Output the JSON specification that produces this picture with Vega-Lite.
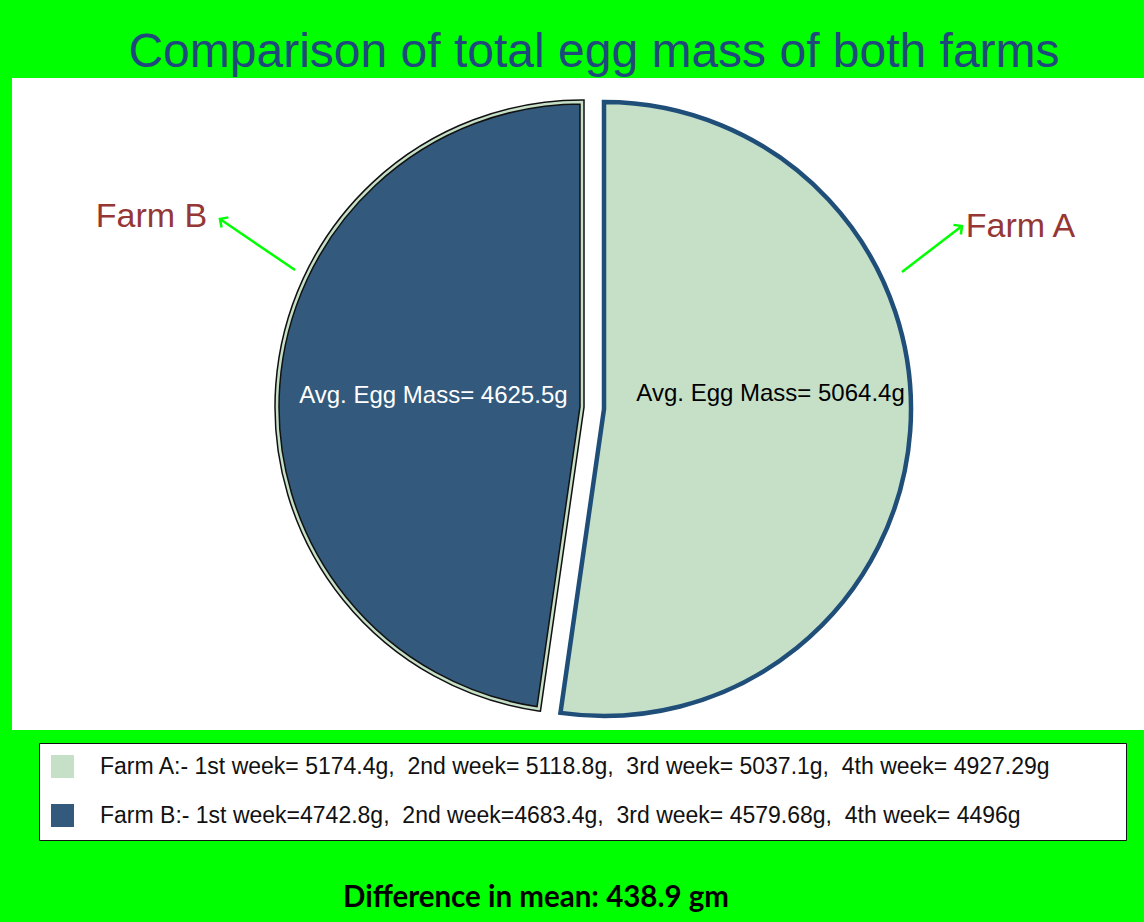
{
  "$schema": "https://vega.github.io/schema/vega-lite/v6.json",
  "width": 1132,
  "height": 652,
  "autosize": {"type": "none"},
  "padding": {"left": 12, "top": 78, "right": 0, "bottom": 192},
  "background": "#00FF00",
  "config": {"view": {"fill": "white", "stroke": null}},
  "title": {
    "text": "Comparison of total egg mass of both farms",
    "font": "Liberation Sans",
    "fontSize": 48,
    "fontWeight": "normal",
    "color": "#1F497D",
    "anchor": "middle",
    "offset": 1,
    "dx": 16
  },
  "datasets": {
    "farms": [
      {"farm": "Farm A", "mass": 5064.4, "legend": "Farm A:- 1st week= 5174.4g,\u00a0 2nd week= 5118.8g,\u00a0 3rd week= 5037.1g,\u00a0 4th week= 4927.29g", "label": "Avg. Egg Mass= 5064.4g"},
      {"farm": "Farm B", "mass": 4625.5, "legend": "Farm B:- 1st week=4742.8g,\u00a0 2nd week=4683.4g,\u00a0 3rd week= 4579.68g,\u00a0 4th week= 4496g", "label": "Avg. Egg Mass= 4625.5g"}
    ],
    "names": [
      {"name": "Farm B", "x": 12.32, "y": 22.85},
      {"name": "Farm A", "x": 89.09, "y": 24.39}
    ],
    "arrows": [
      {"arrow": "B", "end": "tail", "x": 25.0, "y": 29.45},
      {"arrow": "B", "end": "head", "x": 18.37, "y": 21.63},
      {"arrow": "A", "end": "tail", "x": 78.62, "y": 29.75},
      {"arrow": "A", "end": "head", "x": 83.92, "y": 22.7}
    ],
    "footer": [
      {"text": "Difference in mean: 438.9 gm", "x": 46.29, "y": 127.15}
    ]
  },
  "layer": [
    {
      "data": {"name": "farms"},
      "mark": {"type": "arc", "outerRadius": 305, "xOffset": 4, "yOffset": 3, "stroke": "#111111", "strokeWidth": 5.5},
      "encoding": {
        "theta": {"field": "mass", "type": "quantitative", "stack": true},
        "order": {"field": "farm", "type": "ordinal"},
        "color": {
          "field": "legend",
          "type": "nominal",
          "scale": {"range": ["#C6E0C8", "#335A7D"]},
          "legend": {
            "title": "\u00a0",
            "titleOrient": "right",
            "titlePadding": 63,
            "titleFontSize": 10,
            "orient": "none",
            "legendX": 27,
            "legendY": 665,
            "direction": "vertical",
            "fillColor": "white",
            "strokeColor": "#111111",
            "padding": 12,
            "symbolType": "square",
            "symbolSize": 529,
            "symbolStrokeWidth": 0,
            "labelFont": "Liberation Sans",
            "labelFontSize": 23,
            "labelColor": "#111111",
            "labelLimit": 2000,
            "labelOffset": 26,
            "rowPadding": 25
          }
        },
        "opacity": {"condition": {"test": "datum.farm === 'Farm B'", "value": 1}, "value": 0}
      }
    },
    {
      "data": {"name": "farms"},
      "mark": {"type": "arc", "outerRadius": 305, "xOffset": 4, "yOffset": 3, "fill": "transparent", "stroke": "#C6E0C8", "strokeWidth": 2.5},
      "encoding": {
        "theta": {"field": "mass", "type": "quantitative", "stack": true},
        "order": {"field": "farm", "type": "ordinal"},
        "opacity": {"condition": {"test": "datum.farm === 'Farm B'", "value": 1}, "value": 0}
      }
    },
    {
      "data": {"name": "farms"},
      "mark": {"type": "arc", "outerRadius": 307, "xOffset": 26, "yOffset": 5, "stroke": "#1F4E79", "strokeWidth": 4.5},
      "encoding": {
        "theta": {"field": "mass", "type": "quantitative", "stack": true},
        "order": {"field": "farm", "type": "ordinal"},
        "color": {"field": "legend", "type": "nominal"},
        "opacity": {"condition": {"test": "datum.farm === 'Farm A'", "value": 1}, "value": 0}
      }
    },
    {
      "data": {"name": "farms"},
      "mark": {"type": "text", "radius": 149, "dx": 4, "dy": 3, "font": "Liberation Sans", "fontSize": 24, "fill": "white", "baseline": "middle", "align": "center"},
      "encoding": {
        "theta": {"field": "mass", "type": "quantitative", "stack": true},
        "order": {"field": "farm", "type": "ordinal"},
        "text": {"condition": {"test": "datum.farm === 'Farm B'", "field": "label"}, "value": ""}
      }
    },
    {
      "data": {"name": "farms"},
      "mark": {"type": "text", "radius": 167, "dx": 26, "dy": -22, "font": "Liberation Sans", "fontSize": 24, "fill": "black", "baseline": "middle", "align": "center"},
      "encoding": {
        "theta": {"field": "mass", "type": "quantitative", "stack": true},
        "order": {"field": "farm", "type": "ordinal"},
        "text": {"condition": {"test": "datum.farm === 'Farm A'", "field": "label"}, "value": ""}
      }
    },
    {
      "data": {"name": "names"},
      "mark": {"type": "text", "font": "Liberation Sans", "fontSize": 34, "fill": "#953735", "baseline": "alphabetic", "align": "center"},
      "encoding": {
        "x": {"field": "x", "type": "quantitative", "scale": {"domain": [0, 100], "nice": false, "zero": false}, "axis": null},
        "y": {"field": "y", "type": "quantitative", "scale": {"domain": [0, 100], "nice": false, "zero": false, "reverse": true}, "axis": null},
        "text": {"field": "name"}
      }
    },
    {
      "data": {"name": "arrows"},
      "mark": {"type": "line", "stroke": "#00FF00", "strokeWidth": 2.5},
      "encoding": {
        "x": {"field": "x", "type": "quantitative", "scale": {"domain": [0, 100], "nice": false, "zero": false}, "axis": null},
        "y": {"field": "y", "type": "quantitative", "scale": {"domain": [0, 100], "nice": false, "zero": false, "reverse": true}, "axis": null},
        "detail": {"field": "arrow"}
      }
    },
    {
      "data": {"name": "arrows"},
      "transform": [{"filter": "datum.end === 'head' && datum.arrow === 'B'"}],
      "mark": {"type": "point", "shape": "M-0.7,0.7L0,0L0.7,0.7", "filled": false, "stroke": "#00FF00", "strokeWidth": 2.5, "size": 300, "angle": 304, "opacity": 1},
      "encoding": {
        "x": {"field": "x", "type": "quantitative", "scale": {"domain": [0, 100], "nice": false, "zero": false}, "axis": null},
        "y": {"field": "y", "type": "quantitative", "scale": {"domain": [0, 100], "nice": false, "zero": false, "reverse": true}, "axis": null}
      }
    },
    {
      "data": {"name": "arrows"},
      "transform": [{"filter": "datum.end === 'head' && datum.arrow === 'A'"}],
      "mark": {"type": "point", "shape": "M-0.7,0.7L0,0L0.7,0.7", "filled": false, "stroke": "#00FF00", "strokeWidth": 2.5, "size": 300, "angle": 52.5, "opacity": 1},
      "encoding": {
        "x": {"field": "x", "type": "quantitative", "scale": {"domain": [0, 100], "nice": false, "zero": false}, "axis": null},
        "y": {"field": "y", "type": "quantitative", "scale": {"domain": [0, 100], "nice": false, "zero": false, "reverse": true}, "axis": null}
      }
    },
    {
      "data": {"name": "footer"},
      "mark": {"type": "text", "font": "Lato", "fontWeight": "bold", "fontSize": 29.5, "fill": "black", "baseline": "alphabetic", "align": "center"},
      "encoding": {
        "x": {"field": "x", "type": "quantitative", "scale": {"domain": [0, 100], "nice": false, "zero": false}, "axis": null},
        "y": {"field": "y", "type": "quantitative", "scale": {"domain": [0, 100], "nice": false, "zero": false, "reverse": true}, "axis": null},
        "text": {"field": "text"}
      }
    }
  ]
}
